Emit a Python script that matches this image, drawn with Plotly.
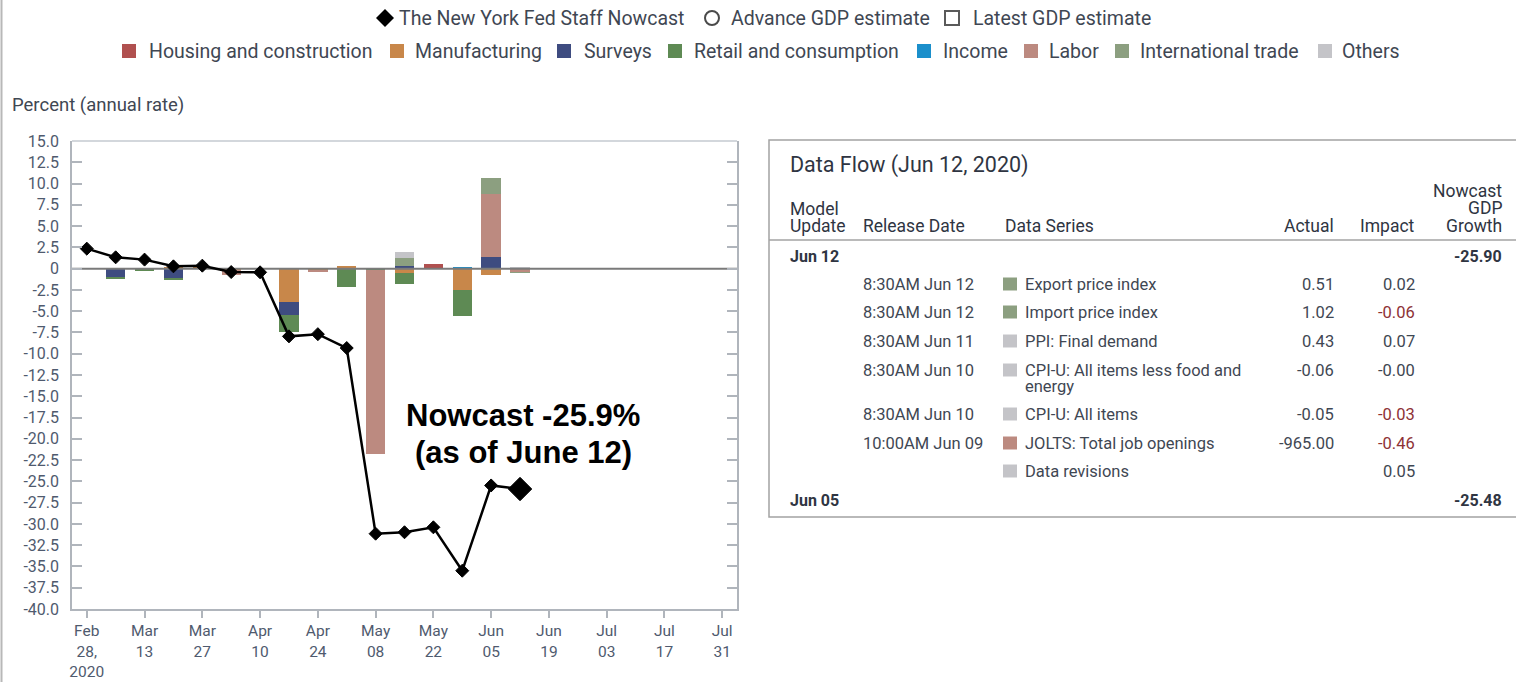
import plotly.graph_objects as go

W, H = 1516, 682

# ---------------- data ----------------
nowcast_dates = ["2020-02-28", "2020-03-06", "2020-03-13", "2020-03-20", "2020-03-27",
                 "2020-04-03", "2020-04-10", "2020-04-17", "2020-04-24", "2020-05-01",
                 "2020-05-08", "2020-05-15", "2020-05-22", "2020-05-29", "2020-06-05",
                 "2020-06-12"]
nowcast_values = [2.35, 1.33, 1.06, 0.27, 0.35, -0.40, -0.43, -7.96, -7.70, -9.33,
                  -31.15, -30.98, -30.40, -35.50, -25.48, -25.90]

impact_dates = nowcast_dates[1:]
categories = ["Housing and construction", "Manufacturing", "Surveys", "Retail and consumption",
              "Income", "Labor", "International trade", "Others"]
category_colors = ["#b0504f", "#c8874a", "#3e4c80", "#5e8a54", "#1b8fcb", "#bc8a80",
                   "#8c9f80", "#c4c4c8"]
housing = [0, 0, 0, 0, 0, 0, 0, 0, 0, 0, 0, 0.50, 0, 0, 0]
manufacturing = [0, 0, 0.25, 0.10, -0.15, 0, -3.90, -0.20, 0.35, 0, -0.50, 0, -2.50, -0.80, 0]
surveys = [-1.00, 0, -1.20, 0, 0, 0, -1.60, 0, 0, 0, 0.30, 0, 0, 1.40, 0]
retail = [-0.15, -0.25, -0.15, 0, 0, 0, -2.00, 0, -2.10, -0.20, -1.30, 0, -3.10, 0, 0]
income = [0, 0, 0, 0, 0, 0, 0, 0, 0, 0, 0, 0, 0.20, 0, 0]
labor = [0, 0, 0, 0, -0.55, 0, 0, -0.10, 0, -21.60, 0, 0, 0, 7.40, -0.46]
international_trade = [0, 0, 0, 0, 0, 0, 0, 0, 0, 0, 0.90, 0, 0, 1.80, -0.04]
others = [0, 0, 0, 0, 0, 0, 0, 0, 0, 0, 0.70, 0, 0, 0, 0.09]
category_values = [housing, manufacturing, surveys, retail, income, labor,
                   international_trade, others]

x_tick_dates = ["2020-02-28", "2020-03-13", "2020-03-27", "2020-04-10", "2020-04-24",
                "2020-05-08", "2020-05-22", "2020-06-05", "2020-06-19", "2020-07-03",
                "2020-07-17", "2020-07-31"]
x_tick_labels = ["Feb<br>28,<br>2020", "Mar<br>13", "Mar<br>27", "Apr<br>10", "Apr<br>24",
                 "May<br>08", "May<br>22", "Jun<br>05", "Jun<br>19", "Jul<br>03",
                 "Jul<br>17", "Jul<br>31"]
y_tick_values = [15 - 2.5 * i for i in range(23)]
y_tick_labels = ["0" if v == 0 else f"{v:.1f}" for v in y_tick_values]

# table data
table_title = "Data Flow (Jun 12, 2020)"
update_current = ("Jun 12", "-25.90")
update_previous = ("Jun 05", "-25.48")
release_dates = ["8:30AM Jun 12", "8:30AM Jun 12", "8:30AM Jun 11", "8:30AM Jun 10",
                 "8:30AM Jun 10", "10:00AM Jun 09", ""]
series_names = [["Export price index"], ["Import price index"], ["PPI: Final demand"],
                ["CPI-U: All items less food and", "energy"], ["CPI-U: All items"],
                ["JOLTS: Total job openings"], ["Data revisions"]]
series_groups = ["International trade", "International trade", "Others", "Others",
                 "Others", "Labor", "Others"]
actual_values = ["0.51", "1.02", "0.43", "-0.06", "-0.05", "-965.00", ""]
impact_values = [0.02, -0.06, 0.07, -0.00, -0.03, -0.46, 0.05]

# ---------------- layout geometry (pixels) ----------------
PL, PR, PT, PB = 72, 737, 141, 609
x_range = ["2020-02-24 10:00", "2020-08-03 14:00"]
y_range = [-40, 15]

FONT = "Roboto, Arial, sans-serif"
TXT = "#3f4753"
TICK = "#4f5a6e"
AXIS = "#b0b5bc"

fig = go.Figure()

for name, color, vals in zip(categories, category_colors, category_values):
    fig.add_trace(go.Bar(x=impact_dates, y=vals, name=name, marker_color=color,
                         marker_line_width=0, width=4.7 * 86400000, showlegend=False,
                         xaxis="x", yaxis="y"))

# zero line spanning the axis range
fig.add_trace(go.Scatter(x=x_range, y=[0, 0], mode="lines",
                         line=dict(color="#7a7a7a", width=2), showlegend=False,
                         hoverinfo="skip"))

marker_sizes = [10] * (len(nowcast_values) - 1) + [18]
fig.add_trace(go.Scatter(x=nowcast_dates, y=nowcast_values, mode="lines+markers",
                         name="The New York Fed Staff Nowcast",
                         line=dict(color="black", width=2.5),
                         marker=dict(symbol="diamond", size=marker_sizes, color="black",
                                     opacity=1, line=dict(color="black", width=1)),
                         showlegend=False))

# invisible overlay pixel axes for legend and table
fig.add_trace(go.Scatter(x=[None], y=[None], xaxis="x2", yaxis="y2", showlegend=False,
                         hoverinfo="skip"))

shapes = []
annotations = []


def text(x, y, s, size, color=TXT, anchor="left", bold=False, family=FONT):
    annotations.append(dict(x=x, y=y, xref="x2", yref="y2", text=s, showarrow=False,
                            xanchor=anchor, yanchor="middle",
                            font=dict(family=family, size=size, color=color,
                                      weight="bold" if bold else "normal")))


def square(cx, cy, color, size=14, hh=None):
    hh = size / 2 if hh is None else hh
    shapes.append(dict(type="rect", xref="x2", yref="y2", x0=cx - size / 2, x1=cx + size / 2,
                       y0=cy - hh, y1=cy + hh, fillcolor=color, line=dict(width=0)))


# ---- legend row 1
shapes.append(dict(type="path", xref="x2", yref="y2",
                   path="M 376,18 L 385,9 L 394,18 L 385,27 Z", fillcolor="black",
                   line=dict(width=0)))
text(397, 18, "The New York Fed Staff Nowcast", 19.5)
shapes.append(dict(type="circle", xref="x2", yref="y2", x0=705, x1=719, y0=11, y1=25,
                   line=dict(color="#4a4a4a", width=2)))
text(729, 18, "Advance GDP estimate", 19.5)
shapes.append(dict(type="rect", xref="x2", yref="y2", x0=945, x1=959, y0=11, y1=25,
                   line=dict(color="#5a5a5a", width=2)))
text(971, 18, "Latest GDP estimate", 19.5)

# ---- legend row 2
legend_sq_x = [129, 397, 564, 675, 924, 1031, 1122, 1325]
legend_tx_x = [147, 413, 582, 692, 941, 1047, 1138, 1340]
for name, color, sx, tx in zip(categories, category_colors, legend_sq_x, legend_tx_x):
    square(sx, 51, color)
    text(tx, 51, name, 19.5)

text(10, 105, "Percent (annual rate)", 18.5)

# ---- annotation on chart
text(523, 415, "Nowcast -25.9%", 31, color="black", anchor="center", bold=True,
     family="Liberation Sans, Arial, sans-serif")
text(523, 452, "(as of June 12)", 31, color="black", anchor="center", bold=True,
     family="Liberation Sans, Arial, sans-serif")

# top border of plot
shapes.append(dict(type="line", xref="x2", yref="y2", x0=PL, x1=PR, y0=PT, y1=PT,
                   line=dict(color="#d3d7dc", width=2)))
# outer left frame line
shapes.append(dict(type="line", xref="x2", yref="y2", x0=1.5, x1=1.5, y0=0, y1=H,
                   line=dict(color="#b8b8b8", width=2)))

# ---- table
TB = "#2f3542"
shapes.append(dict(type="rect", xref="x2", yref="y2", x0=769, x1=1530, y0=140, y1=517,
                   line=dict(color="#a3a3a3", width=1.5)))
text(788, 165, table_title, 21.5, color=TB)
text(788, 209, "Model", 17.5, color=TB)
text(788, 226, "Update", 17.5, color=TB)
text(861, 226, "Release Date", 17.5, color=TB)
text(1003, 226, "Data Series", 17.5, color=TB)
text(1336, 226, "Actual", 17.5, color=TB, anchor="right")
text(1417, 226, "Impact", 17.5, color=TB, anchor="right")
text(1504, 191, "Nowcast", 17.5, color=TB, anchor="right")
text(1504, 208, "GDP", 17.5, color=TB, anchor="right")
text(1504, 226, "Growth", 17.5, color=TB, anchor="right")
shapes.append(dict(type="line", xref="x2", yref="y2", x0=769, x1=1530, y0=240, y1=240,
                   line=dict(color="#a3a3a3", width=1.5)))

text(788, 256, update_current[0], 16, color=TB, bold=True)
text(1504, 256, update_current[1], 16, color=TB, bold=True, anchor="right")

row_y = [284, 312, 341, 370, 414, 443, 471]
group_color = dict(zip(categories, category_colors))
for ry, rd, names, grp, act, imp in zip(row_y, release_dates, series_names, series_groups,
                                        actual_values, impact_values):
    if rd:
        text(861, ry, rd, 16.5)
    square(1010, ry, group_color[grp], size=14, hh=6.5)
    for k, ln in enumerate(names):
        text(1023, ry + 16 * k, ln, 16.5)
    if act:
        text(1336, ry, act, 16.5, anchor="right")
    text(1417, ry, f"{imp:.2f}", 16.5, anchor="right",
         color="#8e3236" if imp < 0 else TXT)

text(788, 500, update_previous[0], 16, color=TB, bold=True)
text(1504, 500, update_previous[1], 16, color=TB, bold=True, anchor="right")

fig.update_layout(
    width=W, height=H, autosize=False,
    margin=dict(l=0, r=0, t=0, b=0, pad=0),
    paper_bgcolor="white", plot_bgcolor="rgba(0,0,0,0)",
    barmode="relative", bargap=0,
    showlegend=False,
    font=dict(family=FONT, color=TXT),
    xaxis=dict(domain=[PL / W, PR / W], range=x_range, type="date",
               tickvals=x_tick_dates, ticktext=x_tick_labels,
               showgrid=False, zeroline=False, showline=True, linecolor=AXIS, linewidth=1.5,
               ticks="outside", ticklen=7, tickwidth=1.5, tickcolor=AXIS,
               tickfont=dict(size=15.5, color=TICK), anchor="y", automargin=False,
               fixedrange=True),
    yaxis=dict(domain=[(H - PB) / H, (H - PT) / H], range=y_range,
               tickvals=y_tick_values, ticktext=y_tick_labels,
               showgrid=False, zeroline=False, showline=True, linecolor=AXIS, linewidth=1.5,
               mirror="ticks", ticks="inside", ticklen=10, tickwidth=1.5, tickcolor=AXIS,
               ticklabelstandoff=8,
               tickfont=dict(size=16, color=TICK), anchor="x", automargin=False,
               fixedrange=True),
    xaxis2=dict(domain=[0, 1], range=[0, W], visible=False, anchor="y2", fixedrange=True),
    yaxis2=dict(domain=[0, 1], range=[H, 0], visible=False, anchor="x2", fixedrange=True),
    shapes=shapes,
    annotations=annotations,
)

fig.write_html("out.html", config={"displayModeBar": False},
               post_script="document.body.style.margin='0';document.body.style.overflow='hidden';")
